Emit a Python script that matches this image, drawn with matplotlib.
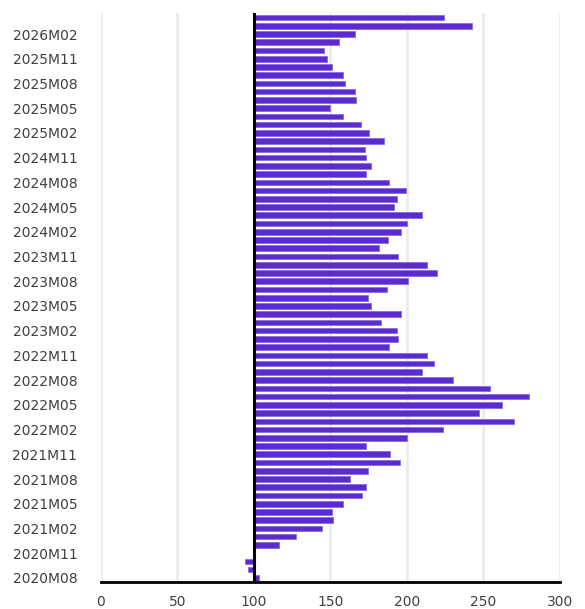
import numpy as np
import matplotlib.pyplot as plt
import pandas as pd

# monthly index values, 2020M08 .. 2026M04 (base 100)
months = pd.period_range('2020-08', '2026-04', freq='M')
labels = [f"{p.year}M{p.month:02d}" for p in months]
values = [103.5, 96.4, 94.0, 100.0, 116.1, 127.4, 144.3, 151.7, 150.9, 158.5,
          170.9, 173.5, 163.0, 174.3, 195.2, 188.7, 173.5, 200.0, 223.5, 269.8,
          247.2, 262.4, 280.0, 254.6, 230.2, 210.2, 217.8, 213.0, 188.5, 194.3,
          193.3, 182.8, 196.3, 176.3, 174.3, 186.7, 200.9, 219.8, 213.0, 194.3,
          182.0, 187.6, 196.1, 199.8, 210.2, 191.3, 193.3, 199.1, 188.5, 173.5,
          176.3, 173.5, 172.4, 184.8, 175.4, 169.8, 158.5, 150.0, 167.0, 165.9,
          159.3, 158.5, 150.9, 148.0, 146.1, 155.4, 165.9, 242.4, 224.3]
base = 100
xticks = [0, 50, 100, 150, 200, 250, 300]

vals = np.array(values)
ypos = np.arange(len(vals))

fig = plt.figure(figsize=(5.85, 6.09), dpi=100)
ax = fig.add_axes([0.1726, 0.0443, 0.957 - 0.1726, 0.978 - 0.0443])

ax.barh(ypos, vals - base, left=base, height=0.68, color='#5b2bcf',
        edgecolor='#8b6be0', linewidth=0.6, zorder=3)

ax.set_xlim(0, 300)
ax.set_ylim(-0.5, len(vals) - 0.5)
ax.set_xticks(xticks)
ax.set_xticklabels([str(t) for t in xticks])
ax.set_yticks(ypos[::3])
ax.set_yticklabels(labels[::3])

for t in xticks:
    if t != base:
        ax.axvline(t, color='#ececec', lw=2, zorder=1)
ax.axvline(base, color='black', lw=2.2, zorder=4)

for s in ['top', 'right', 'left']:
    ax.spines[s].set_visible(False)
ax.spines['bottom'].set_linewidth(2)
ax.spines['bottom'].set_zorder(5)

ax.tick_params(axis='both', length=0, labelsize=10, labelcolor='#404040')
ax.tick_params(axis='y', pad=17)
ax.tick_params(axis='x', pad=9)

fig.savefig('out.png', dpi=100)
